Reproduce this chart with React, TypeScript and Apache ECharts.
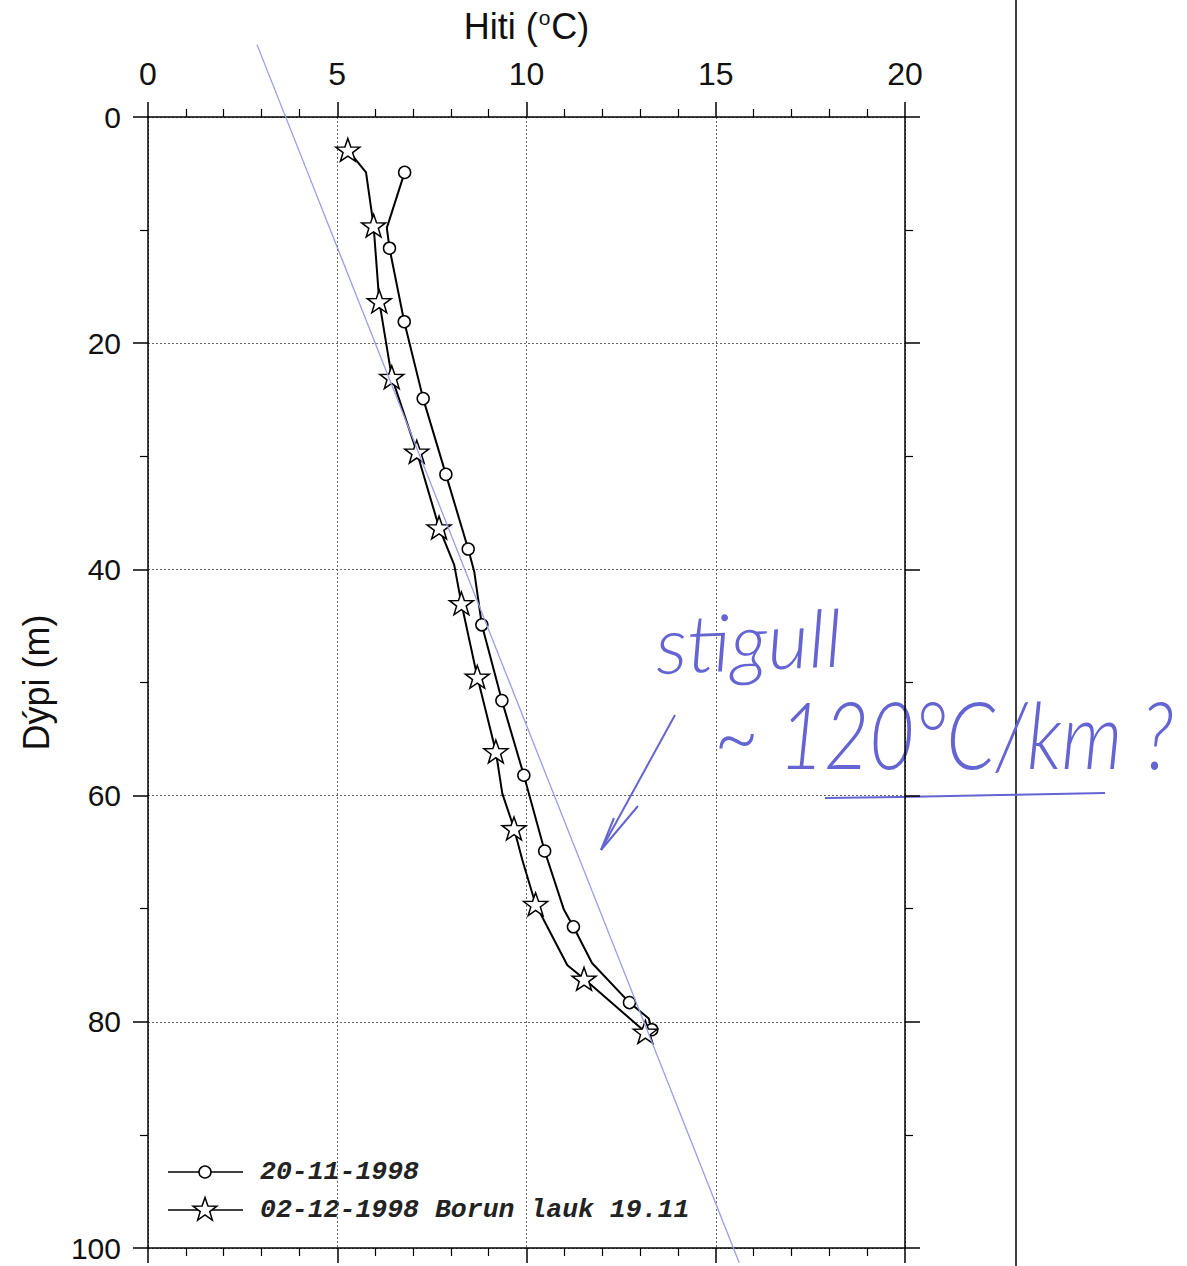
import React, { useEffect, useRef } from "react";
import * as echarts from "echarts";

// Temperature profile: 20-11-1998 (circles)
const circleTemp = [6.78, 6.31, 6.38, 6.77, 7.27, 7.87, 8.46, 8.62, 8.82, 9.35, 9.93, 10.48, 10.99, 11.24, 11.73, 12.72, 13.23, 13.31];
const circleDepth = [4.9, 9.8, 11.6, 18.1, 24.9, 31.6, 38.2, 40.2, 44.9, 51.6, 58.2, 64.9, 70.1, 71.6, 74.8, 78.3, 79.7, 80.7];
const circleMarked = [1, 0, 1, 1, 1, 1, 1, 0, 1, 1, 1, 1, 0, 1, 0, 1, 0, 1];

// 02-12-1998 Borun lauk 19.11 (stars)
const starTemp = [5.28, 5.76, 5.96, 6.11, 6.44, 7.1, 7.69, 8.09, 8.28, 8.7, 9.19, 9.36, 9.67, 9.89, 10.24, 11.08, 11.52, 13.14];
const starDepth = [2.9, 4.9, 9.6, 16.3, 23.0, 29.6, 36.3, 39.6, 43.0, 49.5, 56.1, 59.8, 62.9, 65.7, 69.6, 75.0, 76.2, 80.9];
const starMarked = [1, 0, 1, 1, 1, 1, 1, 0, 1, 1, 1, 0, 1, 0, 1, 0, 1, 1];

// Hand-drawn gradient line (~120 °C/km)
const gradTemp = [2.88, 15.62];
const gradDepth = [-6.4, 101.3];

const tempTicks = [0, 5, 10, 15, 20];
const depthTicks = [0, 20, 40, 60, 80, 100];

const seriesNames = ["20-11-1998", "02-12-1998 Borun lauk 19.11"];

const STAR_PATH =
  "path://M0,-10 L2.35,-3.24 L9.51,-3.09 L3.8,1.24 L5.88,8.09 L0,4 L-5.88,8.09 L-3.8,1.24 L-9.51,-3.09 L-2.35,-3.24 Z";

const FONT = "Liberation Sans, Arial, Helvetica, sans-serif";
const MONO = "Liberation Mono, Courier New, monospace";
const HAND = "Lato, DejaVu Sans, sans-serif";
const INK = "#6464d2";

function starPoints(cx: number, cy: number, R: number, r: number) {
  const pts: number[][] = [];
  for (let i = 0; i < 10; i++) {
    const a = -Math.PI / 2 + (i * Math.PI) / 5;
    const rad = i % 2 === 0 ? R : r;
    pts.push([cx + rad * Math.cos(a), cy + rad * Math.sin(a)]);
  }
  return pts;
}

export default function App() {
  const ref = useRef<HTMLDivElement>(null);

  useEffect(() => {
    if (!ref.current) return;
    const chart = echarts.init(ref.current, null, { renderer: "svg" });

    const circleData = circleTemp.map((t, i) =>
      circleMarked[i] ? { value: [t, circleDepth[i]] } : { value: [t, circleDepth[i]], symbol: "none" }
    );
    const starData = starTemp.map((t, i) =>
      starMarked[i] ? { value: [t, starDepth[i]] } : { value: [t, starDepth[i]], symbol: "none" }
    );
    const gradData = gradTemp.map((t, i) => [t, gradDepth[i]]);

    const axisLine = { show: true, onZero: false, lineStyle: { color: "#000", width: 1.5 } };
    const axisTick = { show: true, inside: false, length: 15, lineStyle: { color: "#000", width: 1.5 } };
    const splitLine = { show: true, lineStyle: { color: "#666", width: 1, type: [2, 2] as any } };
    const minorTick = { show: true, length: 8, lineStyle: { color: "#000", width: 1.2 } };

    const option: any = {
      animation: false,
      backgroundColor: "#fff",
      grid: { left: 148, right: 282, top: 117, bottom: 18, containLabel: false, outerBoundsMode: "none" },
      xAxis: [
        {
          type: "value",
          position: "top",
          min: tempTicks[0],
          max: tempTicks[tempTicks.length - 1],
          interval: 5,
          axisLine,
          axisTick,
          minorTick: { ...minorTick, splitNumber: 5 },
          splitLine,
          axisLabel: { show: true, fontSize: 32, color: "#111", fontFamily: FONT, margin: 27 },
          name: "{a|Hiti (}{s|o}{a|C)}",
          nameLocation: "middle",
          nameGap: 70,
          nameTextStyle: {
            rich: {
              a: { fontSize: 36, fontFamily: FONT, color: "#111", lineHeight: 42 },
              s: { fontSize: 21, fontFamily: FONT, color: "#111", lineHeight: 42, padding: [0, 1, 17, 1] },
            },
          },
        },
        {
          type: "value",
          position: "bottom",
          min: tempTicks[0],
          max: tempTicks[tempTicks.length - 1],
          interval: 5,
          axisLine,
          axisTick,
          minorTick: { ...minorTick, splitNumber: 5 },
          splitLine: { show: false },
          axisLabel: { show: false },
        },
      ],
      yAxis: [
        {
          type: "value",
          position: "left",
          inverse: true,
          min: depthTicks[0],
          max: depthTicks[depthTicks.length - 1],
          interval: 20,
          axisLine,
          axisTick,
          minorTick: { ...minorTick, splitNumber: 2 },
          splitLine,
          axisLabel: { show: true, fontSize: 30, color: "#111", fontFamily: FONT, margin: 27 },
          name: "Dýpi (m)",
          nameLocation: "middle",
          nameGap: 94,
          nameTextStyle: { fontSize: 36, fontFamily: FONT, color: "#111" },
        },
        {
          type: "value",
          position: "right",
          inverse: true,
          min: depthTicks[0],
          max: depthTicks[depthTicks.length - 1],
          interval: 20,
          axisLine,
          axisTick,
          minorTick: { ...minorTick, splitNumber: 2 },
          splitLine: { show: false },
          axisLabel: { show: false },
        },
      ],
      series: [
        {
          name: seriesNames[0],
          type: "line",
          xAxisIndex: 0,
          yAxisIndex: 0,
          data: circleData,
          symbol: "circle",
          symbolSize: 12,
          showSymbol: true,
          showAllSymbol: true,
          lineStyle: { color: "#000", width: 2 },
          itemStyle: { color: "#fff", borderColor: "#000", borderWidth: 1.5 },
          z: 3,
        },
        {
          name: seriesNames[1],
          type: "line",
          xAxisIndex: 0,
          yAxisIndex: 0,
          data: starData,
          symbol: STAR_PATH,
          symbolSize: 24,
          symbolKeepAspect: true,
          showSymbol: true,
          showAllSymbol: true,
          lineStyle: { color: "#000", width: 2 },
          itemStyle: { color: "#fff", borderColor: "#000", borderWidth: 1.5 },
          z: 4,
        },
        {
          name: "gradient",
          type: "line",
          xAxisIndex: 0,
          yAxisIndex: 0,
          data: gradData,
          symbol: "none",
          clip: false,
          lineStyle: { color: "#9c9ce8", width: 1.3 },
          z: 5,
          silent: true,
        },
      ],
      graphic: [
        // right-hand page rule
        { type: "line", shape: { x1: 1016, y1: 0, x2: 1016, y2: 1266 }, style: { stroke: "#000", lineWidth: 1.5 } },
        // legend
        { type: "line", shape: { x1: 168, y1: 1172, x2: 243, y2: 1172 }, style: { stroke: "#000", lineWidth: 1.5 } },
        { type: "circle", shape: { cx: 205, cy: 1172, r: 6 }, style: { fill: "#fff", stroke: "#000", lineWidth: 1.5 } },
        {
          type: "text",
          x: 260,
          y: 1172,
          style: {
            text: seriesNames[0],
            fontFamily: MONO,
            fontStyle: "italic",
            fontWeight: "bold",
            fontSize: 26.5,
            fill: "#222",
            verticalAlign: "middle",
          },
        },
        { type: "line", shape: { x1: 168, y1: 1210, x2: 243, y2: 1210 }, style: { stroke: "#000", lineWidth: 1.5 } },
        {
          type: "polygon",
          shape: { points: starPoints(205, 1210, 12.5, 5) },
          style: { fill: "#fff", stroke: "#000", lineWidth: 1.5 },
        },
        {
          type: "text",
          x: 260,
          y: 1210,
          style: {
            text: seriesNames[1],
            fontFamily: MONO,
            fontStyle: "italic",
            fontWeight: "bold",
            fontSize: 26.5,
            fill: "#222",
            verticalAlign: "middle",
          },
        },
        // handwritten annotation
        {
          type: "text",
          x: 654,
          y: 603,
          rotation: 0.04,
          style: {
            text: "stigull",
            fontFamily: HAND,
            fontStyle: "italic",
            fontWeight: 300,
            fontSize: 80,
            fill: INK,
            verticalAlign: "top",
          },
        },
        {
          type: "text",
          x: 714,
          y: 686,
          scaleY: 1.2,
          style: {
            text: "~ 120°C/km ?",
            fontFamily: HAND,
            fontStyle: "italic",
            fontWeight: 300,
            fontSize: 78,
            fill: INK,
            verticalAlign: "top",
          },
        },
        {
          type: "polyline",
          shape: { points: [[675, 715], [601, 850]] },
          style: { stroke: INK, lineWidth: 2, fill: null },
        },
        {
          type: "polyline",
          shape: { points: [[638, 806], [601, 850], [614, 818]] },
          style: { stroke: INK, lineWidth: 2, fill: null },
        },
        {
          type: "polyline",
          shape: { points: [[825, 798], [900, 797], [1000, 795], [1105, 793]] },
          style: { stroke: INK, lineWidth: 2, fill: null },
        },
      ],
    };

    chart.setOption(option);
    return () => chart.dispose();
  }, []);

  return (
    <div
      ref={ref}
      style={{ position: "absolute", left: 0, top: 0, width: 1187, height: 1266, background: "#fff" }}
    />
  );
}
